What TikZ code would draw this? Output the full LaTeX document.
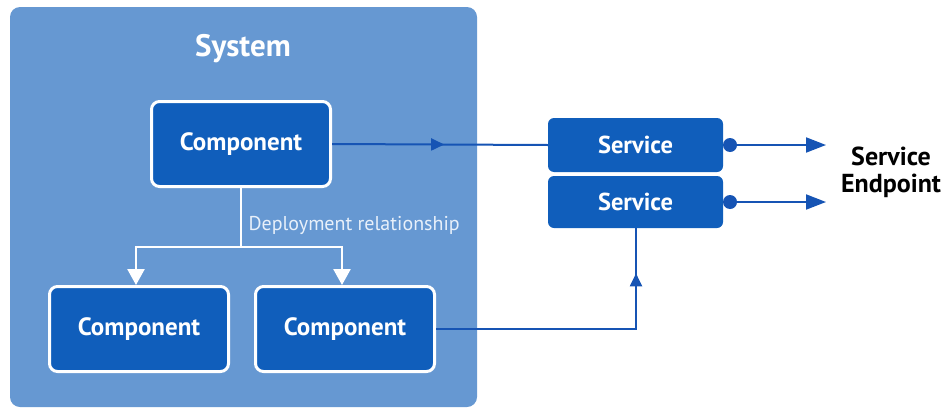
\documentclass[tikz,border=0pt]{standalone}
\usepackage{fontspec}
\setmainfont{PT Sans}
\usetikzlibrary{arrows.meta,decorations.markings}
\definecolor{sysbg}{RGB}{102,152,210}
\definecolor{boxblue}{RGB}{16,94,187}
\definecolor{lineblue}{RGB}{22,84,180}
\definecolor{labelwhite}{RGB}{232,240,250}
\tikzset{
  compbox/.style={draw=white, line width=3pt, fill=boxblue, rounded corners=8pt,
    minimum width=179pt, minimum height=85pt, text=white,
    font=\fontsize{25}{28}\selectfont\bfseries},
  servbox/.style={fill=boxblue, rounded corners=6pt, minimum width=175pt,
    text=white, font=\fontsize{24.5}{28}\selectfont\bfseries},
  blueline/.style={draw=lineblue, line width=2pt},
  midarrow/.style={postaction={decorate}, decoration={markings,
    mark=at position #1 with {\arrow{Triangle[length=13pt,width=12pt]}}}},
  deparrow/.style={draw=white, line width=2.5pt, -{Triangle[length=16pt,width=17pt,fill=white]}},
  enddot/.style={circle, fill=lineblue, inner sep=0pt, minimum size=14pt},
}
\begin{document}
\begin{tikzpicture}[x=1pt,y=-1pt]
\useasboundingbox (0,0) rectangle (947,407);
% system background
\node[fill=sysbg, rounded corners=10pt, minimum width=467pt, minimum height=400pt,
  inner sep=0pt] (sys) at (243.5,207) {};
\node[text=white, font=\fontsize{31}{34}\selectfont\bfseries] (systitle) at (243,49) {System};
% components
\node[compbox] (c1) at (241,144) {Component};
\node[compbox] (c2) at (139,329) {Component};
\node[compbox] (c3) at (345,329) {Component};
% deployment relationship
\coordinate (split) at (241,247);
\draw[white, line width=2.5pt] (c1.south) -- (split);
\draw[deparrow] (split) -| ([xshift=-3pt]c2.north);
\draw[deparrow] (split) -| ([xshift=-3pt]c3.north);
\node[anchor=west, text=labelwhite, font=\fontsize{20}{24}\selectfont] (deplabel) at (245,225) {Deployment relationship};
% services
\node[servbox, minimum height=54pt] (s1) at (635.5,145) {Service};
\node[servbox, minimum height=52pt] (s2) at (635.5,202) {Service};
% connectors
\draw[blueline, midarrow=0.52] (c1.east) -- (s1.west);
\draw[blueline, midarrow=0.85] (c3.east) -| ([xshift=0.5pt]s2.south);
% endpoints
\node[enddot] (d1) at (730,145) {};
\node[enddot] (d2) at (730,202) {};
\coordinate (e1) at (826,145);
\coordinate (e2) at (826,202);
\draw[blueline, -{Triangle[length=20pt,width=15pt]}] (d1.center) -- (e1);
\draw[blueline, -{Triangle[length=20pt,width=15pt]}] (d2.center) -- (e2);
\node[align=center, font=\fontsize{26}{27}\selectfont\bfseries] (ep) at (891,172) {Service\\Endpoint};
\end{tikzpicture}
\end{document}
